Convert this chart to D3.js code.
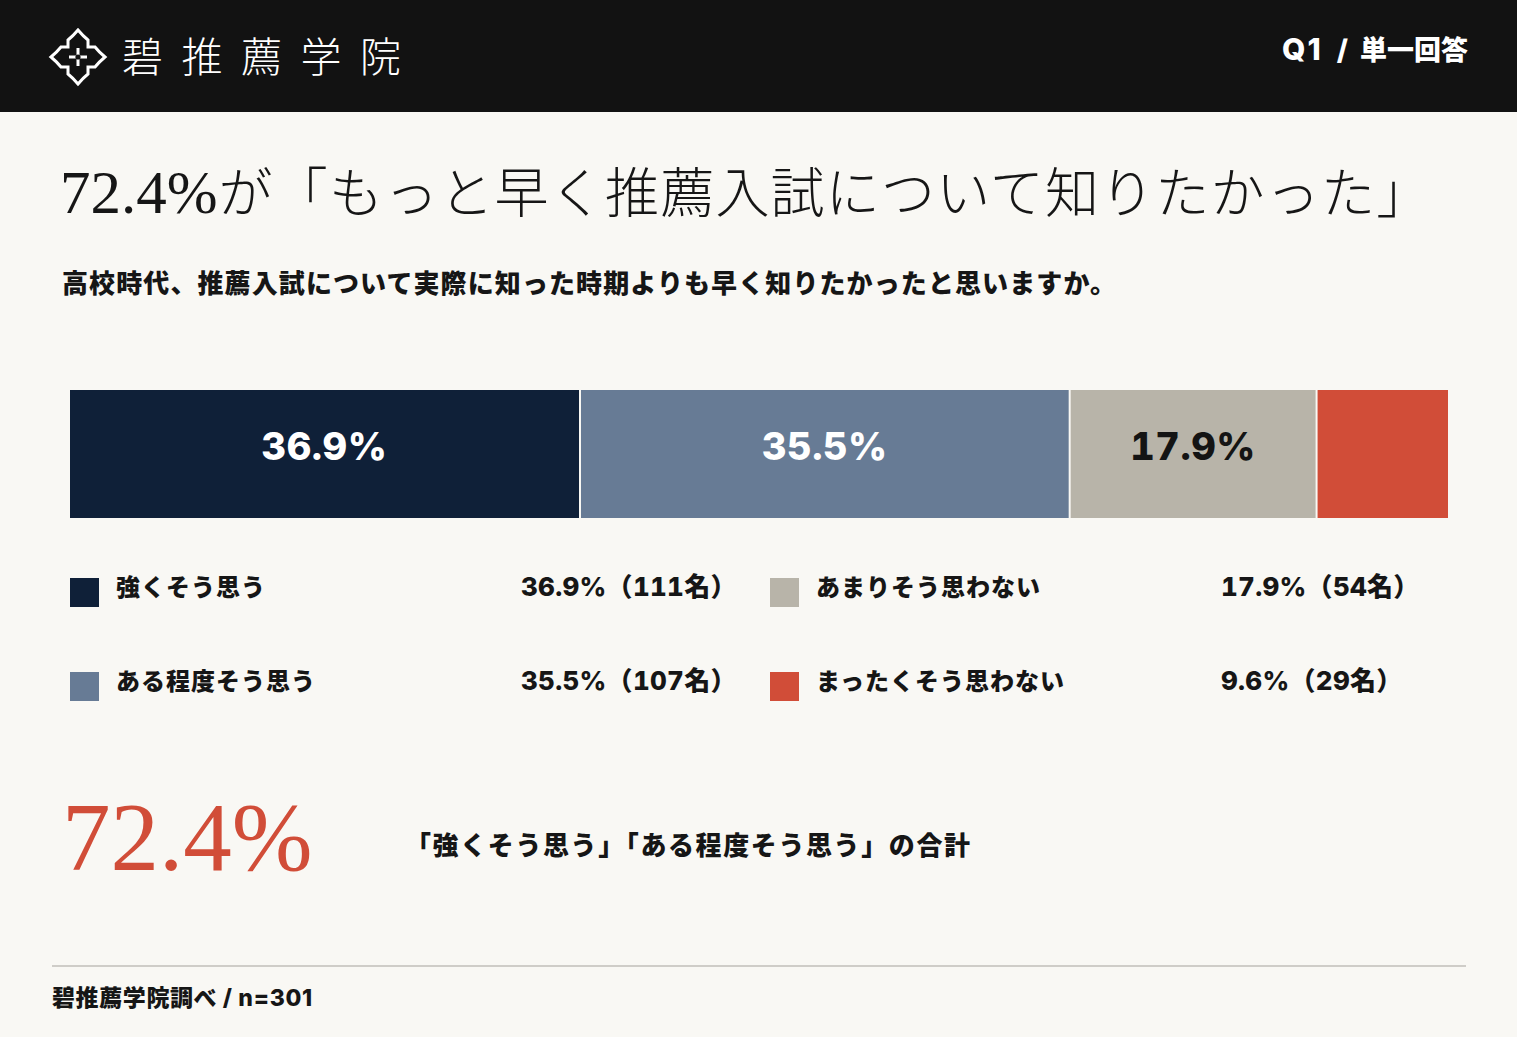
<!DOCTYPE html>
<html lang="ja">
<head>
<meta charset="utf-8">
<script src="https://cdn.jsdelivr.net/npm/d3@7/dist/d3.min.js"></script>
<style>
  html, body { margin: 0; padding: 0; background: #f9f8f4; }
  svg { display: block; }
  .num { font-variant-numeric: tabular-nums; font-feature-settings: "tnum" 1; }
</style>
</head>
<body>
<svg id="chart" width="1517" height="1037"></svg>
<script>
// ---- data ----
const categories = ["強くそう思う", "ある程度そう思う", "あまりそう思わない", "まったくそう思わない"];
const percents = [36.9, 35.5, 17.9, 9.6];
const counts = [111, 107, 54, 29];
const colors = ["#0f2038", "#677b95", "#b8b4a9", "#d14d38"];
const labelColors = ["#ffffff", "#ffffff", "#141414", "#ffffff"];
const brandName = "碧推薦学院";
const questionTag = ["Q1", "/", "単一回答"];
const titleNum = "72.4%";
const titleText = "が「もっと早く推薦入試について知りたかった」";
const subtitle = "高校時代、推薦入試について実際に知った時期よりも早く知りたかったと思いますか。";
const totalValue = "72.4%";
const totalCaption = "「強くそう思う」「ある程度そう思う」の合計";
const footnote = "碧推薦学院調べ / n=301";

const W = 1517, H = 1037;
const svg = d3.select("#chart");
const JP = "'Noto Sans CJK JP', 'Noto Sans', sans-serif";
const LAT = "Inter, 'Noto Sans CJK JP', sans-serif";
const SERIF = "'Liberation Serif', 'DejaVu Serif', 'Times New Roman', serif";

svg.append("rect").attr("width", W).attr("height", H).attr("fill", "#f9f8f4");

// ---- header ----
svg.append("rect").attr("width", W).attr("height", 112).attr("fill", "#121212");
const logo = svg.append("g").attr("transform", "translate(78,57)");
logo.append("path")
  .attr("d", "M0,-27 Q-5,-21 -10,-17 L-10,-10 L-17,-10 Q-21,-5 -27,0 Q-21,5 -17,10 L-10,10 L-10,17 Q-5,21 0,27 Q5,21 10,17 L10,10 L17,10 Q21,5 27,0 Q21,-5 17,-10 L10,-10 L10,-17 Q5,-21 0,-27 Z")
  .attr("fill", "none").attr("stroke", "#fff").attr("stroke-width", 3).attr("stroke-linejoin", "miter");
logo.append("path").attr("d", "M-9,0 H9 M0,-9 V9")
  .attr("stroke", "#fff").attr("stroke-width", 3);
logo.append("circle").attr("r", 2.6).attr("fill", "#121212");

svg.append("text").text(brandName)
  .attr("x", 122).attr("y", 72)
  .style("font-family", JP).style("font-weight", 200).style("font-size", "41px")
  .attr("letter-spacing", 18.5).attr("fill", "#fff");

const qt = svg.append("text").attr("x", 1468).attr("y", 60).attr("text-anchor", "end")
  .attr("fill", "#fff").style("font-family", LAT).style("font-weight", 800);
qt.append("tspan").text(questionTag[0]).style("font-size", "30px").attr("letter-spacing", 2);
qt.append("tspan").text(questionTag[1]).attr("dx", 14).style("font-size", "28px");
qt.append("tspan").text(questionTag[2]).attr("dx", 12).style("font-size", "27px");

// ---- title ----
const tNum = svg.append("text").text(titleNum)
  .attr("x", 60).attr("y", 213).attr("fill", "#161616")
  .attr("font-family", SERIF).attr("font-size", 61).attr("font-weight", 400);
const numW = tNum.node().getComputedTextLength();
svg.append("text").text(titleText)
  .attr("x", 60 + numW + 1).attr("y", 213).attr("fill", "#161616")
  .style("font-family", JP).style("font-weight", 300).style("font-size", "54px")
  .attr("letter-spacing", 1.2);

svg.append("text").text(subtitle)
  .attr("x", 62).attr("y", 293)
  .style("font-family", JP).style("font-weight", 900).style("font-size", "26px")
  .attr("letter-spacing", 1.1).attr("fill", "#161616");

// ---- stacked bar ----
const total = d3.sum(percents);
const starts = d3.cumsum([0].concat(percents.slice(0, -1)));
const x = d3.scaleLinear().domain([0, total]).range([70, 1448]);
const barY = 390, barH = 128, gap = 2;
const segs = percents.map((v, i) => ({ v, i, s: starts[i], e: starts[i] + v }));

const bar = svg.append("g");
bar.selectAll("rect").data(segs).join("rect")
  .attr("x", d => x(d.s) + (d.i === 0 ? 0 : gap))
  .attr("y", barY)
  .attr("width", d => x(d.e) - x(d.s) - (d.i === 0 ? 0 : gap))
  .attr("height", barH)
  .attr("fill", d => colors[d.i]);

bar.selectAll("text").data(segs.filter(d => d.v >= 10)).join("text")
  .attr("class", "num")
  .attr("x", d => (x(d.s) + x(d.e)) / 2 + (d.i === 0 ? 0 : gap / 2))
  .attr("y", barY + 70)
  .attr("text-anchor", "middle")
  .style("font-family", LAT).style("font-weight", 800).style("font-size", "38px")
  .attr("letter-spacing", 0.6)
  .attr("fill", d => labelColors[d.i])
  .text(d => d.v.toFixed(1) + "%");

// ---- legend ----
const colX = [70, 770], rowY = [578, 672];
const leg = svg.append("g");
const items = categories.map((c, i) => ({ c, i, col: Math.floor(i / 2), row: i % 2 }));
const li = leg.selectAll("g").data(items).join("g")
  .attr("transform", d => `translate(${colX[d.col]},${rowY[d.row]})`);
li.append("rect").attr("width", 29).attr("height", 29).attr("fill", d => colors[d.i]);
li.append("text").attr("x", 46).attr("y", 18)
  .style("font-family", JP).style("font-weight", 900).style("font-size", "24px")
  .attr("letter-spacing", 1)
  .attr("fill", "#161616").text(d => d.c);
li.append("text").attr("class", "num").attr("x", 451).attr("y", 18)
  .style("font-family", LAT).style("font-weight", 800).style("font-size", "26px")
  .attr("letter-spacing", 0.3)
  .attr("fill", "#161616")
  .text(d => `${percents[d.i].toFixed(1)}%（${counts[d.i]}名）`);

// ---- total ----
svg.append("text").text(totalValue)
  .attr("x", 62).attr("y", 870)
  .style("font-family", SERIF).style("font-size", "97px").attr("fill", "#d14d38");
svg.append("text").text(totalCaption)
  .attr("x", 405).attr("y", 855)
  .style("font-family", JP).style("font-weight", 900).style("font-size", "26px")
  .attr("letter-spacing", 1.6)
  .attr("fill", "#161616");

// ---- footer ----
svg.append("line").attr("x1", 52).attr("x2", 1466).attr("y1", 966).attr("y2", 966)
  .attr("stroke", "#cfcdc8").attr("stroke-width", 2);
svg.append("text").text(footnote)
  .attr("x", 52).attr("y", 1006)
  .style("font-family", LAT).style("font-weight", 800).style("font-size", "23px")
  .attr("letter-spacing", 0.6)
  .attr("fill", "#161616");
</script>
</body>
</html>
